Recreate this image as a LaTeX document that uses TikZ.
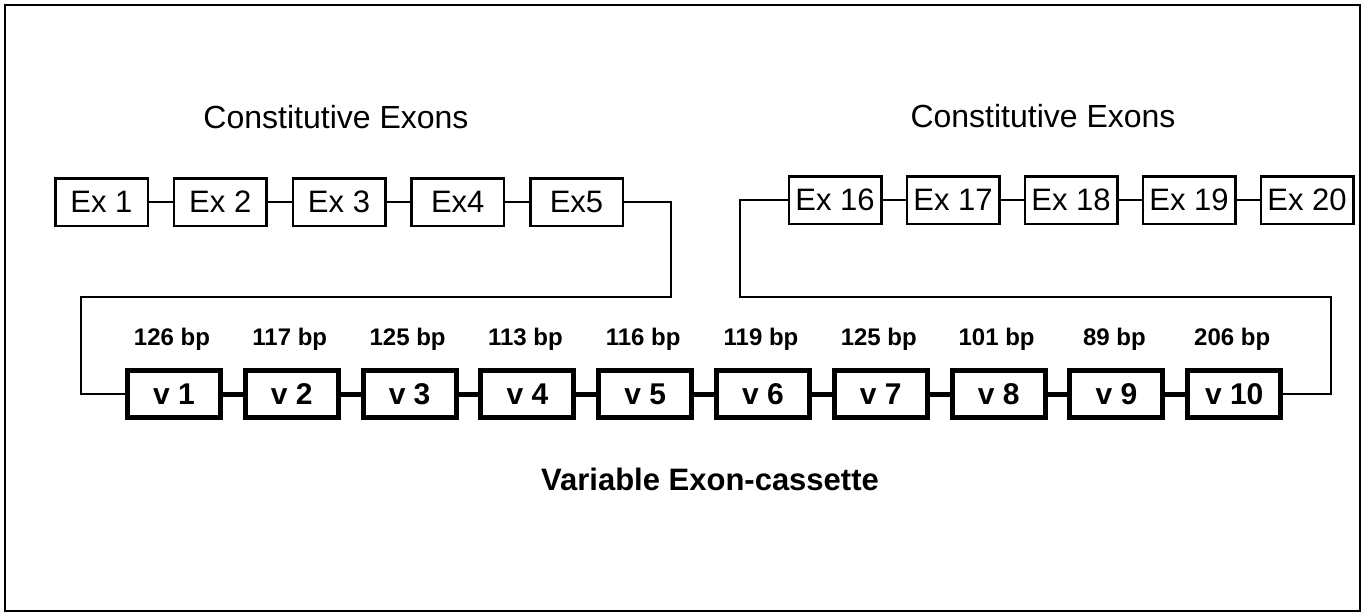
\documentclass[tikz,border=0pt]{standalone}
\usepackage{fontspec}
\setmainfont{Liberation Sans}
\begin{document}
\begin{tikzpicture}[x=1pt,y=-1pt,
  exbox/.style={draw,line width=2.5pt,minimum width=92.5pt,minimum height=47.5pt,inner sep=0pt,font=\fontsize{31}{36}\selectfont},
  vbox/.style={draw,line width=5pt,minimum width=93pt,minimum height=47pt,inner sep=0pt,font=\fontsize{30}{36}\selectfont\bfseries},
  hdr/.style={anchor=base,inner sep=0pt,font=\fontsize{32}{38}\selectfont},
  bplab/.style={anchor=base,inner sep=0pt,font=\fontsize{24}{28}\selectfont\bfseries},
  vlab/.style={anchor=base,inner sep=0pt,font=\fontsize{31}{36}\selectfont\bfseries},
  exlink/.style={line width=2.5pt},
  vlink/.style={line width=5pt},
  loopline/.style={line width=2.8pt}]
\useasboundingbox (0,0) rectangle (1364,614);
\draw[line width=2pt] (5,5) rectangle (1360,611);
% headers
\node[hdr] (h1) at (336,128) {Constitutive Exons};
\node[hdr] (h2) at (1043,127) {Constitutive Exons};
% left constitutive exons
\node[exbox] (ex1) at (101.5,202) {Ex 1};
\node[exbox] (ex2) at (220.25,202) {Ex 2};
\node[exbox] (ex3) at (339,202) {Ex 3};
\node[exbox] (ex4) at (457.75,202) {Ex4};
\node[exbox] (ex5) at (576.5,202) {Ex5};
% right constitutive exons
\node[exbox] (ex16) at (835,200) {Ex 16};
\node[exbox] (ex17) at (953,200) {Ex 17};
\node[exbox] (ex18) at (1071,200) {Ex 18};
\node[exbox] (ex19) at (1189,200) {Ex 19};
\node[exbox] (ex20) at (1307,200) {Ex 20};
% variable exons
\foreach \i/\bp in {1/126,2/117,3/125,4/113,5/116,6/119,7/125,8/101,9/89,10/206}{
  \node[vbox] (v\i) at ({174+117.8*(\i-1)},394) {v \i};
  \node[bplab] (bp\i) at ({172+117.8*(\i-1)},345) {\bp\ bp};
}
\node[vlab,font=\fontsize{31}{36}\selectfont\bfseries] (vt) at (710,490) {Variable Exon-cassette};
% links
\draw[exlink] (ex1) -- (ex2) (ex2) -- (ex3) (ex3) -- (ex4) (ex4) -- (ex5);
\draw[exlink] (ex16) -- (ex17) (ex17) -- (ex18) (ex18) -- (ex19) (ex19) -- (ex20);
\foreach \i [evaluate=\i as \j using int(\i+1)] in {1,...,9}{
  \draw[vlink] (v\i) -- (v\j);
}
\coordinate (c1) at (671,297);
\coordinate (c2) at (81,297);
\coordinate (c3) at (1331,297);
\coordinate (c4) at (740,297);
\draw[loopline] (ex5.east) -| (c1) -- (c2) |- (v1.west);
\draw[loopline] (v10.east) -| (c3) -- (c4) |- (ex16.west);
\end{tikzpicture}
\end{document}
